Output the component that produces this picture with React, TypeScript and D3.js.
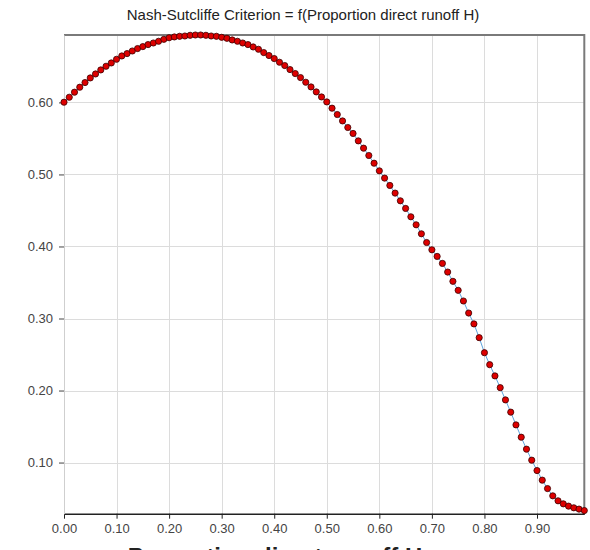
import { useEffect, useRef } from "react";
import * as d3 from "d3";

// Proportion direct runoff H (x values)
const proportionH = [
  0.0, 0.01, 0.02, 0.03, 0.04, 0.05, 0.06, 0.07, 0.08, 0.09,
  0.1, 0.11, 0.12, 0.13, 0.14, 0.15, 0.16, 0.17, 0.18, 0.19,
  0.2, 0.21, 0.22, 0.23, 0.24, 0.25, 0.26, 0.27, 0.28, 0.29,
  0.3, 0.31, 0.32, 0.33, 0.34, 0.35, 0.36, 0.37, 0.38, 0.39,
  0.4, 0.41, 0.42, 0.43, 0.44, 0.45, 0.46, 0.47, 0.48, 0.49,
  0.5, 0.51, 0.52, 0.53, 0.54, 0.55, 0.56, 0.57, 0.58, 0.59,
  0.6, 0.61, 0.62, 0.63, 0.64, 0.65, 0.66, 0.67, 0.68, 0.69,
  0.7, 0.71, 0.72, 0.73, 0.74, 0.75, 0.76, 0.77, 0.78, 0.79,
  0.8, 0.81, 0.82, 0.83, 0.84, 0.85, 0.86, 0.87, 0.88, 0.89,
  0.9, 0.91, 0.92, 0.93, 0.94, 0.95, 0.96, 0.97, 0.98, 0.99,
];

// Nash-Sutcliffe criterion
const nashSutcliffe = [
  0.6003, 0.6072, 0.6142, 0.6211, 0.6276, 0.634, 0.6395, 0.6451, 0.6502, 0.6548,
  0.6599, 0.6645, 0.6678, 0.6714, 0.6748, 0.6775, 0.6803, 0.6825, 0.6849, 0.6876,
  0.6898, 0.6909, 0.6918, 0.6922, 0.6932, 0.6936, 0.6936, 0.6932, 0.6922, 0.6918,
  0.6904, 0.689, 0.6867, 0.6849, 0.6825, 0.6803, 0.677, 0.6738, 0.6692, 0.6651,
  0.6609, 0.6558, 0.6512, 0.6456, 0.6401, 0.6345, 0.628, 0.6215, 0.6146, 0.6076,
  0.6007, 0.592, 0.5832, 0.5743, 0.5652, 0.5569, 0.5466, 0.5365, 0.5263, 0.5156,
  0.505, 0.4949, 0.4847, 0.4741, 0.4634, 0.4528, 0.4412, 0.4301, 0.4176, 0.4055,
  0.3954, 0.3862, 0.3765, 0.3645, 0.3516, 0.3391, 0.3243, 0.3076, 0.2925, 0.2734,
  0.2525, 0.2359, 0.2203, 0.204, 0.187, 0.17, 0.1523, 0.1352, 0.1186, 0.1033,
  0.0889, 0.0756, 0.0639, 0.0538, 0.0469, 0.0427, 0.0395, 0.0372, 0.0354, 0.0334,
];

const xTicks = [0, 0.1, 0.2, 0.3, 0.4, 0.5, 0.6, 0.7, 0.8, 0.9];
const yTicks = [0.1, 0.2, 0.3, 0.4, 0.5, 0.6];

const title = "Nash-Sutcliffe Criterion = f(Proportion direct runoff H)";
const xTitle = "Proportion direct runoff H";

const App = () => {
  const ref = useRef<SVGSVGElement | null>(null);

  useEffect(() => {
    const width = 590;
    const height = 550;
    const left = 64;
    const right = 584.3;
    const top = 35;
    const bottom = 513.7;

    const svg = d3.select(ref.current);
    svg.selectAll("*").remove();

    const data = proportionH.map((h, i) => ({ h, v: nashSutcliffe[i] }));

    const x = d3.scaleLinear().domain([0, 0.99]).range([left, right]);
    const y = d3.scaleLinear().domain([0.029, 0.6936]).range([bottom, top]);

    svg.attr("width", width).attr("height", height);

    // background
    svg
      .append("rect")
      .attr("x", left)
      .attr("y", top)
      .attr("width", right - left)
      .attr("height", bottom - top)
      .attr("fill", "white");

    // grid
    const grid = svg.append("g").attr("stroke", "#dcdcdc").attr("stroke-width", 1);
    grid
      .selectAll(".vg")
      .data(xTicks)
      .enter()
      .append("line")
      .attr("x1", (d) => Math.round(x(d)) + 0.5)
      .attr("x2", (d) => Math.round(x(d)) + 0.5)
      .attr("y1", top)
      .attr("y2", bottom);
    grid
      .selectAll(".hg")
      .data(yTicks)
      .enter()
      .append("line")
      .attr("x1", left)
      .attr("x2", right)
      .attr("y1", (d) => Math.round(y(d)) + 0.5)
      .attr("y2", (d) => Math.round(y(d)) + 0.5);

    // frame: top and right dark
    svg
      .append("path")
      .attr("d", `M${left},${top} H${right} V${bottom}`)
      .attr("fill", "none")
      .attr("stroke", "#7a7a7a")
      .attr("stroke-width", 2);

    // x axis
    const xAxis = svg
      .append("g")
      .attr("transform", `translate(0,${bottom})`)
      .call(
        d3
          .axisBottom(x)
          .tickValues(xTicks)
          .tickFormat(d3.format(".2f"))
          .tickSize(5)
          .tickSizeOuter(0)
      );
    xAxis.select(".domain").attr("stroke", "#222").attr("stroke-width", 1.5);
    xAxis.selectAll(".tick line").attr("stroke", "#222");
    xAxis
      .selectAll(".tick text")
      .attr("font-family", "Liberation Sans, Arial, sans-serif")
      .attr("font-size", 13)
      .attr("fill", "#444")
      .attr("dy", "0.85em");

    // y axis
    const yAxis = svg
      .append("g")
      .attr("transform", `translate(${left},0)`)
      .call(
        d3
          .axisLeft(y)
          .tickValues(yTicks)
          .tickFormat(d3.format(".2f"))
          .tickSize(5)
          .tickSizeOuter(0)
      );
    yAxis.select(".domain").attr("stroke", "#cfcfcf");
    yAxis.selectAll(".tick line").attr("stroke", "#444");
    yAxis
      .selectAll(".tick text")
      .attr("font-family", "Liberation Sans, Arial, sans-serif")
      .attr("font-size", 13)
      .attr("fill", "#444")
      .attr("x", -11);

    // line
    const line = d3
      .line<{ h: number; v: number }>()
      .x((d) => x(d.h))
      .y((d) => y(d.v));
    svg
      .append("path")
      .datum(data)
      .attr("d", line)
      .attr("fill", "none")
      .attr("stroke", "#5da3dc")
      .attr("stroke-width", 1);

    // points
    svg
      .selectAll(".pt")
      .data(data)
      .enter()
      .append("circle")
      .attr("cx", (d) => x(d.h))
      .attr("cy", (d) => y(d.v))
      .attr("r", 3.1)
      .attr("fill", "#dd0000")
      .attr("stroke", "#3a0000")
      .attr("stroke-width", 0.8);

    // title
    svg
      .append("text")
      .attr("x", 303)
      .attr("y", 20)
      .attr("text-anchor", "middle")
      .attr("font-family", "Liberation Sans, Arial, sans-serif")
      .attr("font-size", 15)
      .attr("fill", "#222")
      .text(title);

    // x title (only its top shows at the page edge, as in the reference)
    svg
      .append("text")
      .attr("x", 275)
      .attr("y", 565)
      .attr("text-anchor", "middle")
      .attr("font-family", "Liberation Sans, Arial, sans-serif")
      .attr("font-size", 24)
      .attr("font-weight", "bold")
      .attr("fill", "#222")
      .text(xTitle);
  }, []);

  return (
    <svg
      ref={ref}
      style={{ position: "absolute", left: 0, top: 0, overflow: "hidden" }}
    />
  );
};

export default App;
